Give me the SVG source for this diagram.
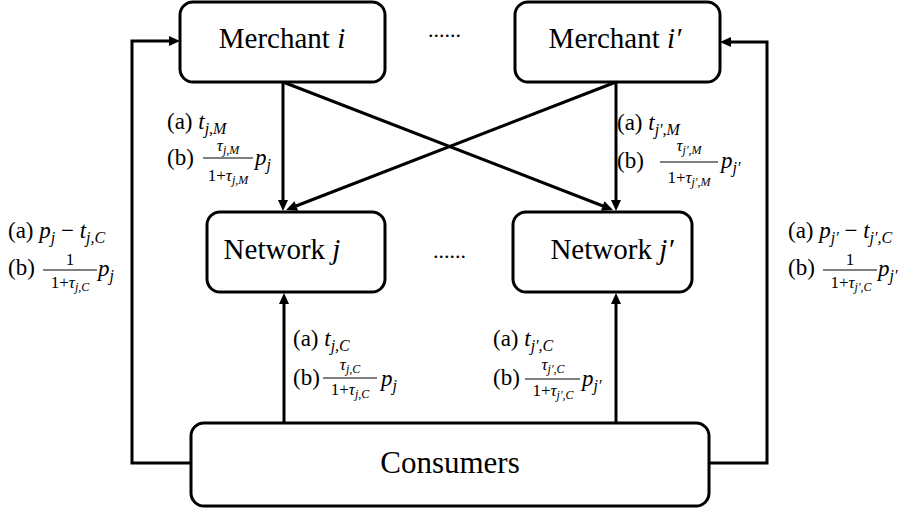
<svg xmlns="http://www.w3.org/2000/svg" width="911" height="512" viewBox="0 0 911 512">
<g id="connectors">
<g fill="none" stroke="#000" stroke-width="3">
<line x1="283" y1="82" x2="283" y2="201"/>
<line x1="616" y1="82" x2="616" y2="201"/>
<line x1="283" y1="82" x2="603" y2="206"/>
<line x1="616" y1="82" x2="296" y2="206"/>
<line x1="284" y1="423" x2="284" y2="303"/>
<line x1="616" y1="423" x2="616" y2="303"/>
<polyline points="191,463 132,463 132,41 170,41"/>
<polyline points="709,463 767,463 767,42 730,42"/>
</g>
<g fill="#000">
<path d="M278,200 L288,200 L283,211 z"/>
<path d="M611,200 L621,200 L616,211 z"/>
<path d="M600.9,210.7 L604.5,201.3 L613,210 z"/>
<path d="M298.1,210.7 L294.5,201.3 L286,210 z"/>
<path d="M279,304 L289,304 L284,293 z"/>
<path d="M611,304 L621,304 L616,293 z"/>
<path d="M169,36 L169,46 L180,41 z"/>
<path d="M731,37 L731,47 L720,42 z"/>
</g>
</g>

<g id="merchant-i">
<rect x="180" y="2" width="205" height="80" rx="13" fill="#fff" stroke="#000" stroke-width="3"/>
<text x="282" y="48" text-anchor="middle" font-family="Liberation Serif" font-size="29">Merchant <tspan font-style="italic">i</tspan></text>
</g>
<g id="merchant-i-prime">
<rect x="515" y="2" width="205" height="80" rx="13" fill="#fff" stroke="#000" stroke-width="3"/>
<text x="615" y="48" text-anchor="middle" font-family="Liberation Serif" font-size="29">Merchant <tspan font-style="italic">i′</tspan></text>
</g>
<g id="network-j">
<rect x="207" y="212" width="178" height="80" rx="13" fill="#fff" stroke="#000" stroke-width="3"/>
<text x="282" y="259" text-anchor="middle" font-family="Liberation Serif" font-size="29">Network <tspan font-style="italic">j</tspan></text>
</g>
<g id="network-j-prime">
<rect x="513" y="212" width="179" height="80" rx="13" fill="#fff" stroke="#000" stroke-width="3"/>
<text x="612" y="259" text-anchor="middle" font-family="Liberation Serif" font-size="29">Network <tspan font-style="italic">j′</tspan></text>
</g>
<g id="consumers">
<rect x="191" y="423" width="518" height="83" rx="13" fill="#fff" stroke="#000" stroke-width="3"/>
<text x="450" y="473" text-anchor="middle" font-family="Liberation Serif" font-size="31">Consumers</text>
</g>

<text x="428" y="37" font-family="Liberation Serif" font-size="22">......</text>
<text x="433" y="258" font-family="Liberation Serif" font-size="22">......</text>

<g id="label-merchant-i">
<text x="167" y="129" font-family="Liberation Serif" font-size="23">(a) <tspan font-style="italic">t</tspan><tspan font-style="italic" font-size="16" dy="5">j,M</tspan></text>
<text x="167" y="165" font-family="Liberation Serif" font-size="23">(b)</text>
<text x="228" y="151" text-anchor="middle" font-family="Liberation Serif" font-size="17"><tspan font-style="italic">τ</tspan><tspan font-style="italic" font-size="12" dy="3">j,M</tspan></text>
<line x1="203" y1="158" x2="253" y2="158" stroke="#000" stroke-width="1.2"/>
<text x="228" y="181" text-anchor="middle" font-family="Liberation Serif" font-size="17">1+<tspan font-style="italic">τ</tspan><tspan font-style="italic" font-size="12" dy="3">j,M</tspan></text>
<text x="255" y="165" font-family="Liberation Serif" font-size="23"><tspan font-style="italic">p</tspan><tspan font-style="italic" font-size="16" dy="5">j</tspan></text>
</g>

<g id="label-merchant-i-prime">
<text x="617" y="130" font-family="Liberation Serif" font-size="23">(a) <tspan font-style="italic">t</tspan><tspan font-style="italic" font-size="16" dy="5">j′,M</tspan></text>
<text x="617" y="168" font-family="Liberation Serif" font-size="23">(b)</text>
<text x="689" y="151" text-anchor="middle" font-family="Liberation Serif" font-size="17"><tspan font-style="italic">τ</tspan><tspan font-style="italic" font-size="12" dy="3">j′,M</tspan></text>
<line x1="660" y1="162" x2="718" y2="162" stroke="#000" stroke-width="1.2"/>
<text x="689" y="183" text-anchor="middle" font-family="Liberation Serif" font-size="17">1+<tspan font-style="italic">τ</tspan><tspan font-style="italic" font-size="12" dy="3">j′,M</tspan></text>
<text x="721" y="168" font-family="Liberation Serif" font-size="23"><tspan font-style="italic">p</tspan><tspan font-style="italic" font-size="16" dy="5">j′</tspan></text>
</g>

<g id="label-left">
<text x="8" y="238" font-family="Liberation Serif" font-size="23">(a) <tspan font-style="italic">p</tspan><tspan font-style="italic" font-size="16" dy="5">j</tspan><tspan dy="-5"> − </tspan><tspan font-style="italic">t</tspan><tspan font-style="italic" font-size="16" dy="5">j,C</tspan></text>
<text x="8" y="275" font-family="Liberation Serif" font-size="23">(b)</text>
<text x="70" y="265" text-anchor="middle" font-family="Liberation Serif" font-size="17">1</text>
<line x1="43" y1="270" x2="97" y2="270" stroke="#000" stroke-width="1.2"/>
<text x="70" y="288" text-anchor="middle" font-family="Liberation Serif" font-size="17">1+<tspan font-style="italic">τ</tspan><tspan font-style="italic" font-size="12" dy="3">j,C</tspan></text>
<text x="98" y="276" font-family="Liberation Serif" font-size="23"><tspan font-style="italic">p</tspan><tspan font-style="italic" font-size="16" dy="5">j</tspan></text>
</g>

<g id="label-right">
<text x="788" y="238" font-family="Liberation Serif" font-size="23">(a) <tspan font-style="italic">p</tspan><tspan font-style="italic" font-size="16" dy="5">j′</tspan><tspan dy="-5"> − </tspan><tspan font-style="italic">t</tspan><tspan font-style="italic" font-size="16" dy="5">j′,C</tspan></text>
<text x="788" y="275" font-family="Liberation Serif" font-size="23">(b)</text>
<text x="850" y="265" text-anchor="middle" font-family="Liberation Serif" font-size="17">1</text>
<line x1="823" y1="270" x2="877" y2="270" stroke="#000" stroke-width="1.2"/>
<text x="851" y="288" text-anchor="middle" font-family="Liberation Serif" font-size="17">1+<tspan font-style="italic">τ</tspan><tspan font-style="italic" font-size="12" dy="3">j′,C</tspan></text>
<text x="878" y="276" font-family="Liberation Serif" font-size="23"><tspan font-style="italic">p</tspan><tspan font-style="italic" font-size="16" dy="5">j′</tspan></text>
</g>

<g id="label-consumer-j">
<text x="293" y="346" font-family="Liberation Serif" font-size="23">(a) <tspan font-style="italic">t</tspan><tspan font-style="italic" font-size="16" dy="5">j,C</tspan></text>
<text x="293" y="385" font-family="Liberation Serif" font-size="23">(b)</text>
<text x="350" y="370" text-anchor="middle" font-family="Liberation Serif" font-size="17"><tspan font-style="italic">τ</tspan><tspan font-style="italic" font-size="12" dy="3">j,C</tspan></text>
<line x1="323" y1="378" x2="377" y2="378" stroke="#000" stroke-width="1.2"/>
<text x="350" y="395" text-anchor="middle" font-family="Liberation Serif" font-size="17">1+<tspan font-style="italic">τ</tspan><tspan font-style="italic" font-size="12" dy="3">j,C</tspan></text>
<text x="381" y="386" font-family="Liberation Serif" font-size="23"><tspan font-style="italic">p</tspan><tspan font-style="italic" font-size="16" dy="5">j</tspan></text>
</g>

<g id="label-consumer-j-prime">
<text x="493" y="346" font-family="Liberation Serif" font-size="23">(a) <tspan font-style="italic">t</tspan><tspan font-style="italic" font-size="16" dy="5">j′,C</tspan></text>
<text x="493" y="385" font-family="Liberation Serif" font-size="23">(b)</text>
<text x="553" y="370" text-anchor="middle" font-family="Liberation Serif" font-size="17"><tspan font-style="italic">τ</tspan><tspan font-style="italic" font-size="12" dy="3">j′,C</tspan></text>
<line x1="525" y1="379" x2="580" y2="379" stroke="#000" stroke-width="1.2"/>
<text x="553" y="396" text-anchor="middle" font-family="Liberation Serif" font-size="17">1+<tspan font-style="italic">τ</tspan><tspan font-style="italic" font-size="12" dy="3">j′,C</tspan></text>
<text x="582" y="386" font-family="Liberation Serif" font-size="23"><tspan font-style="italic">p</tspan><tspan font-style="italic" font-size="16" dy="5">j′</tspan></text>
</g>
</svg>
